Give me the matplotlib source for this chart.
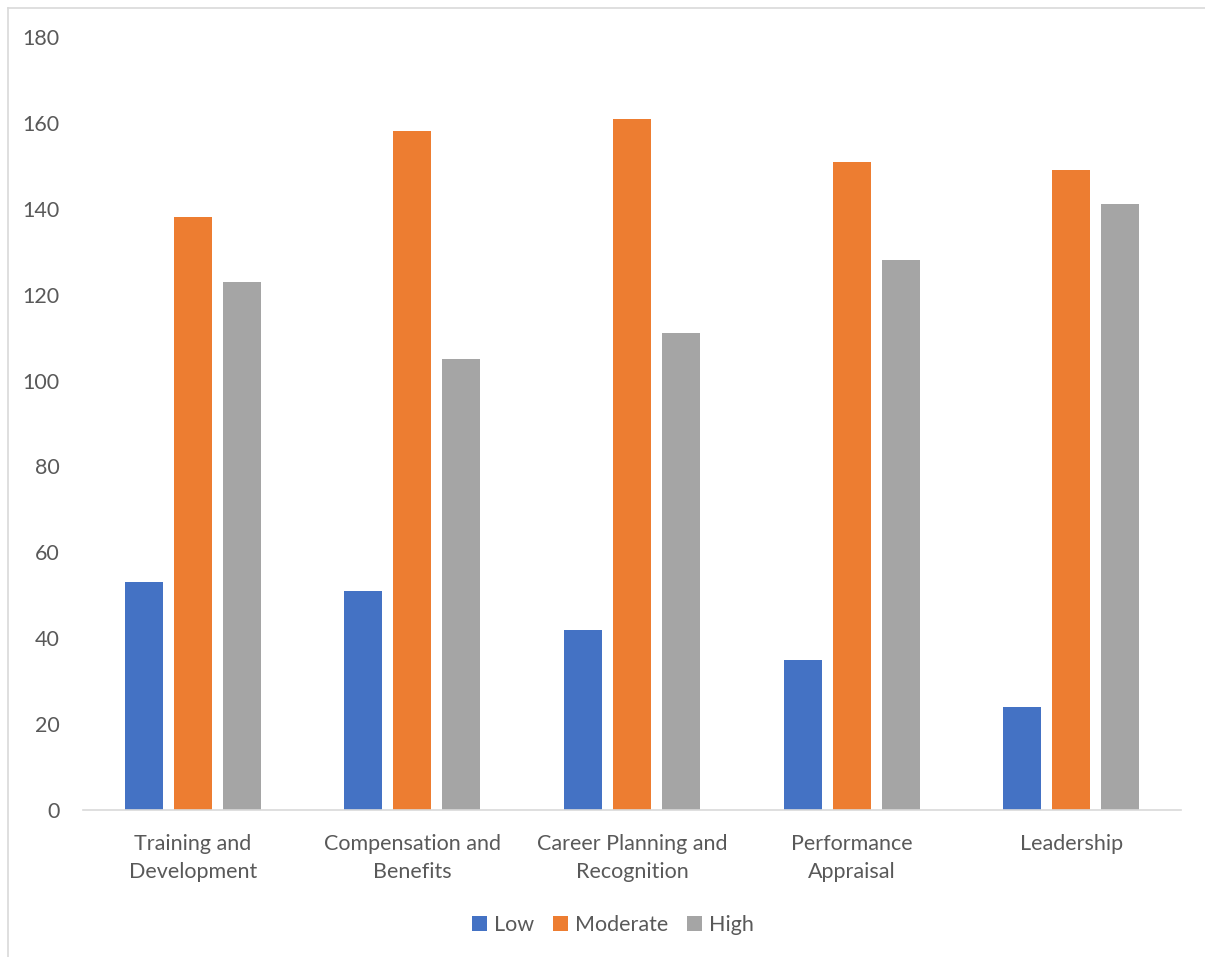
import matplotlib.pyplot as plt
import numpy as np

plt.rcParams['font.family'] = ['Lato', 'DejaVu Sans']

categories = ['Training and\nDevelopment', 'Compensation and\nBenefits',
              'Career Planning and\nRecognition', 'Performance\nAppraisal', 'Leadership']
low = [53, 51, 42, 35, 24]
moderate = [138, 158, 161, 151, 149]
high = [123, 105, 111, 128, 141]
series = [('Low', low, '#4472C4'), ('Moderate', moderate, '#ED7D31'), ('High', high, '#A5A5A5')]

TXT = '#595959'


def plot():
    fig = plt.figure(figsize=(12.05, 9.57), dpi=100)
    ax = fig.add_axes([83 / 1205, 1 - 810 / 957, 1098 / 1205, 773 / 957])

    x = np.arange(len(categories))
    step = 0.223
    width = 0.173
    for i, (name, vals, col) in enumerate(series):
        ax.bar(x + (i - 1) * step, vals, width, color=col, label=name, zorder=2)

    ax.set_xlim(-0.5, len(categories) - 0.5)
    ax.set_ylim(0, 180)
    ax.set_yticks(range(0, 181, 20))
    ax.set_xticks(x)
    ax.set_xticklabels(categories, fontsize=15.5, color=TXT, linespacing=1.55)
    ax.tick_params(axis='y', labelsize=15.5, labelcolor=TXT, length=0, pad=17)
    ax.tick_params(axis='x', length=0, pad=17)
    for s in ['top', 'right', 'left']:
        ax.spines[s].set_visible(False)
    ax.spines['bottom'].set_color('#D9D9D9')
    ax.spines['bottom'].set_linewidth(1.2)

    fig.legend(loc='center', bbox_to_anchor=(613 / 1205, 1 - 925 / 957), ncol=3,
               frameon=False, fontsize=15.5, labelcolor=TXT, handlelength=0.7,
               handleheight=0.7, handletextpad=0.3, columnspacing=0.9)

    # light chart border (left and top only visible)
    fig.add_artist(plt.Line2D([8 / 1205, 8 / 1205], [0, 1 - 8 / 957],
                              transform=fig.transFigure, color='#D9D9D9', lw=1.2))
    fig.add_artist(plt.Line2D([8 / 1205, 1], [1 - 8 / 957, 1 - 8 / 957],
                              transform=fig.transFigure, color='#D9D9D9', lw=1.2))

    fig.savefig('out.png', dpi=100)


if __name__ == '__main__':
    plot()
